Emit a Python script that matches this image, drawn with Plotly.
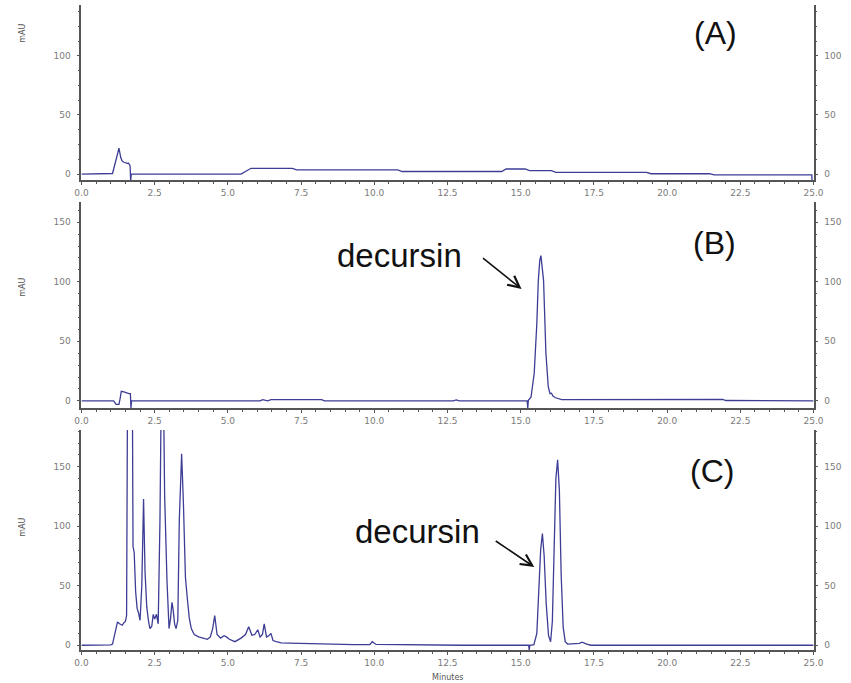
import plotly.graph_objects as go

# ---------------- data ----------------
t_A = [0, 1.0, 1.06, 1.2, 1.28, 1.34, 1.39, 1.45, 1.5, 1.56, 1.61, 1.66, 1.68, 1.70,
       5.45, 5.6, 5.79, 7.2, 7.35, 10.8, 10.95, 14.35, 14.5, 15.15, 15.3, 16.05, 16.2,
       19.3, 19.45, 21.45, 21.6, 24.94, 24.95, 25]
y_A = [0, 0, 0.5, 14, 22, 14, 11, 10, 9.5, 9, 9.2, 7, -6, 0,
       0, 2, 4.9, 4.9, 3.5, 3.5, 2.2, 2.2, 4.3, 4.3, 3, 3, 1.5,
       1.5, 0.3, 0.3, -0.7, -0.7, -6, -6]

t_B = [0, 1.1, 1.18, 1.28, 1.32, 1.36, 1.45, 1.55, 1.62, 1.67, 1.69, 1.71,
       6.1, 6.19, 6.3, 6.36, 6.47, 8.2, 8.3, 12.7, 12.8, 12.9,
       15.22, 15.24, 15.26, 15.35, 15.46, 15.55, 15.6, 15.65, 15.69, 15.73, 15.78,
       15.86, 15.94, 16.0, 16.05, 16.1, 16.19, 16.4, 16.9, 16.96, 17.05,
       20.3, 20.4, 21.9, 22.0, 25]
y_B = [0, 0, -3, -3, 2, 8, 7.5, 6.5, 6, 6, -6, 0,
       0, 1, 0, 0, 1, 1, 0, 0, 0.8, 0,
       0, -6, 0.5, 3, 23, 65, 101, 118, 122, 112, 101,
       40, 12, 6, 6.4, 4, 2.6, 1, 1, 1.4, 0.8,
       0.8, 1.2, 1.2, 0.3, 0]

t_C = [0, 1.0, 1.06, 1.15, 1.23, 1.3, 1.39, 1.45, 1.5, 1.54, 1.58, 1.65, 1.73, 1.76,
       1.8, 1.85, 1.9, 1.95, 2.0, 2.06, 2.12, 2.17, 2.23, 2.29, 2.34, 2.4, 2.45, 2.5,
       2.56, 2.62, 2.68, 2.76, 2.84, 2.92, 2.99, 3.04, 3.09, 3.13, 3.18, 3.23, 3.29,
       3.34, 3.42, 3.48, 3.55, 3.62, 3.68, 3.75, 3.85, 4.0, 4.12, 4.3, 4.4, 4.48, 4.55,
       4.63, 4.75, 4.87, 4.95, 5.05, 5.24, 5.45, 5.6, 5.71, 5.82, 5.92, 6.02, 6.1, 6.18,
       6.24, 6.32, 6.4, 6.47, 6.54, 6.65, 6.82, 7.1, 7.49, 8.0, 8.6, 9.3, 9.85, 9.93,
       10.06, 11.0, 13.0, 15.27, 15.29, 15.31, 15.45, 15.55, 15.62, 15.68, 15.74, 15.8,
       15.87, 15.95, 16.02, 16.08, 16.14, 16.2, 16.26, 16.32, 16.38, 16.45, 16.52, 16.6,
       17.0, 17.1, 17.25, 17.4, 25]
y_C = [0, 0.3, 1, 10, 19.6, 18, 16.8, 19, 20, 25, 260, 210, 260, 83,
       78, 45, 31, 27, 21, 50, 123, 62, 32, 20, 14, 16, 26, 22,
       26, 18, 105, 300, 126, 54, 14, 22, 36, 30, 18, 14, 21,
       105, 161, 120, 57, 38, 23, 14, 9, 7, 6, 5, 7, 14, 25,
       9, 6, 8, 7, 5, 3, 6, 9, 15.5, 8.5, 9, 13, 7, 9,
       18, 7, 8, 10, 4, 3, 2, 1.8, 1.5, 1, 0.7, 0.5, 0.6, 3,
       0.7, 0.3, 0, 0, -4, 0, 0.5, 10, 45, 80, 94, 75,
       35, 8, 3, 20, 80, 140, 156, 130, 60, 15, 3, 1,
       1.5, 2.5, 1, 0, 0]

x_ticks = [0, 2.5, 5, 7.5, 10, 12.5, 15, 17.5, 20, 22.5, 25]
yticks_A = [0, 50, 100]
yticks_BC = [0, 50, 100, 150]
range_A = [-5, 143]
range_B = [-6, 167]
range_C = [-4, 181]
panel_labels = ["(A)", "(B)", "(C)"]
peak_label = "decursin"

# ---------------- styling ----------------
W, H = 851, 683
LINE = "#3d3d96"
AX = "#555555"
TXT = "#7a7a7a"
TICKFONT = dict(family="DejaVu Sans", size=9, color=TXT)

def px(x):
    return x / W

def py(y):
    return 1 - y / H

xdom = [px(76), px(823)]
ydoms = [[py(180), py(5)], [py(408), py(202)], [py(650), py(430)]]
ranges = [range_A, range_B, range_C]
yticks = [yticks_A, yticks_BC, yticks_BC]
ydt_minor = [12.5, 10, 10]

fig = go.Figure()
for i, (t, v) in enumerate([(t_A, y_A), (t_B, y_B), (t_C, y_C)]):
    n = "" if i == 0 else str(i + 1)
    fig.add_trace(go.Scatter(x=t, y=v, mode="lines", xaxis="x" + n, yaxis="y" + n,
                             line=dict(color=LINE, width=1.3), hoverinfo="skip"))
    # empty trace to realise the right-hand axis
    fig.add_trace(go.Scatter(x=[], y=[], mode="lines", xaxis="x" + n,
                             yaxis="y" + str(i + 4), hoverinfo="skip"))

layout = dict(width=W, height=H, margin=dict(l=0, r=0, t=0, b=0),
              paper_bgcolor="white", plot_bgcolor="white", showlegend=False)

for i in range(3):
    n = "" if i == 0 else str(i + 1)
    layout["xaxis" + n] = dict(
        domain=xdom, range=[0, 25], anchor="y" + n, tickvals=x_ticks,
        tickformat=".1f", showline=True, linecolor=AX, linewidth=1.8,
        ticks="outside", ticklen=3, tickcolor=AX, showgrid=False, zeroline=False,
        tickfont=TICKFONT,
        minor=dict(dtick=0.5, ticks="outside", ticklen=2, tickcolor=AX))
    common_y = dict(range=ranges[i], tickvals=yticks[i], showline=True, linecolor=AX,
                    linewidth=1.8, ticks="outside", ticklen=3, tickcolor=AX,
                    showgrid=False, zeroline=False, tickfont=TICKFONT,
                    ticklabelstandoff=4,
                    minor=dict(dtick=ydt_minor[i], tick0=0, ticks="outside",
                               ticklen=2, tickcolor=AX))
    layout["yaxis" + n] = dict(domain=ydoms[i], anchor="x" + n, side="left", **common_y)
    layout["yaxis" + str(i + 4)] = dict(overlaying="y" + n, anchor="x" + n,
                                        side="right", **common_y)

def label(x, y, text, size, color="#111", family="Liberation Sans", angle=0):
    return dict(x=px(x), y=py(y), xref="paper", yref="paper", text=text,
                showarrow=False, textangle=angle, xanchor="center", yanchor="middle",
                font=dict(family=family, size=size, color=color))

ann = []
# mAU axis titles
for yy in [33, 287, 527]:
    ann.append(label(15, yy, "mAU", 8, "#555", "DejaVu Sans", -90))
ann.append(label(450, 677, "Minutes", 8, "#555", "DejaVu Sans"))
# panel labels
for lab, (xx, yy) in zip(panel_labels, [(723, 33), (722, 243), (719, 471)]):
    ann.append(label(xx, yy, lab, 32))
# decursin labels
for xx, yy in [(401, 255), (419, 531)]:
    ann.append(label(xx, yy, peak_label, 33))
# arrows
for (tx, ty), (sx, sy) in [((525, 289), (485, 257)), ((538, 567), (498, 540))]:
    ann.append(dict(x=px(tx), y=py(ty), xref="paper", yref="paper", text="",
                    showarrow=True, ax=sx - tx, ay=sy - ty, arrowhead=5,
                    arrowsize=1.4, arrowwidth=1.6, arrowcolor="#111"))
layout["annotations"] = ann

fig.update_layout(**layout)
fig.write_html("out.html")
